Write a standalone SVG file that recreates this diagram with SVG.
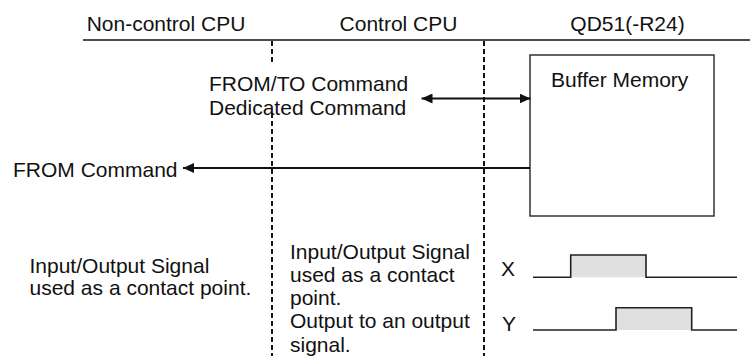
<svg xmlns="http://www.w3.org/2000/svg" width="750" height="356" viewBox="0 0 750 356">
<style>
  text { font-family: "Liberation Sans", Arial, sans-serif; font-size: 21px; fill: #111; }
  .hdr { text-anchor: middle; }
  .divider { stroke: #111; stroke-width: 2; stroke-dasharray: 5 3; fill: none; }
  .conn { stroke: #111; stroke-width: 2; fill: none; }
  .wave { stroke: #222; stroke-width: 1.6; fill: none; }
  .pulse { fill: #e0e0e0; stroke: none; }
</style>
<defs>
  <marker id="arrow" markerUnits="userSpaceOnUse" markerWidth="11" markerHeight="10" refX="11" refY="5" orient="auto-start-reverse" viewBox="0 0 11 10">
    <path d="M0,0 L11,5 L0,10 z" fill="#111"/>
  </marker>
</defs>
<rect width="750" height="356" fill="#fff"/>

<g id="header">
  <line x1="83" y1="40" x2="750" y2="40" stroke="#111" stroke-width="1.6"/>
  <text class="hdr" x="166" y="31">Non-control CPU</text>
  <text class="hdr" x="398.5" y="31">Control CPU</text>
  <text class="hdr" x="627.5" y="31">QD51(-R24)</text>
</g>

<g id="dividers">
  <line class="divider" x1="272" y1="41" x2="272" y2="356"/>
  <line class="divider" x1="484" y1="41" x2="484" y2="356"/>
</g>

<g id="buffer-memory">
  <rect x="530" y="55" width="184" height="161" fill="#fff" stroke="#333" stroke-width="1.5"/>
  <text x="551" y="87">Buffer Memory</text>
</g>

<g id="fromto-label">
  <rect x="205" y="64" width="210" height="47" fill="#fff"/>
  <text x="209" y="90.5">FROM/TO Command</text>
  <text x="209" y="114.5">Dedicated Command</text>
</g>

<g id="from-label">
  <text x="13" y="177">FROM Command</text>
</g>

<g id="connectors">
  <line class="conn" x1="421.5" y1="98.5" x2="530.5" y2="98.5" marker-start="url(#arrow)" marker-end="url(#arrow)"/>
  <line class="conn" x1="530" y1="168" x2="183" y2="168" marker-end="url(#arrow)"/>
</g>

<g id="noncontrol-io">
  <text x="29.5" y="272.5">Input/Output Signal</text>
  <text x="29.5" y="295">used as a contact point.</text>
</g>

<g id="control-io">
  <text x="290" y="258.5">Input/Output Signal</text>
  <text x="290" y="281.8">used as a contact</text>
  <text x="290" y="305.1">point.</text>
  <text x="290" y="328.4">Output to an output</text>
  <text x="290" y="351.7">signal.</text>
</g>

<g id="signal-x">
  <text x="501" y="276">X</text>
  <rect class="pulse" x="570.7" y="255" width="75.3" height="22.3"/>
  <polyline class="wave" points="533,277.3 570.7,277.3 570.7,255 646,255 646,277.3 737,277.3"/>
</g>

<g id="signal-y">
  <text x="502" y="331">Y</text>
  <rect class="pulse" x="616" y="307.7" width="75.7" height="22.3"/>
  <polyline class="wave" points="533,330 616,330 616,307.7 691.7,307.7 691.7,330 737,330"/>
</g>
</svg>
